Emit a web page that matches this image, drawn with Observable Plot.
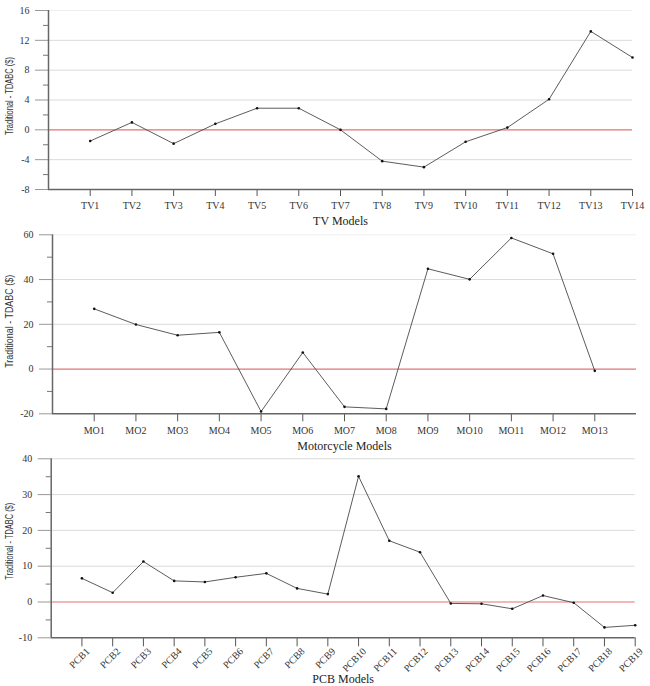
<!DOCTYPE html>
<html>
<head>
<meta charset="utf-8">
<script src="https://cdn.jsdelivr.net/npm/d3@7"></script>
<script src="https://cdn.jsdelivr.net/npm/@observablehq/plot@0.6"></script>
<style>
  html, body { margin: 0; padding: 0; background: #fff; }
  #chart { width: 650px; }
  #chart svg { display: block; }
</style>
</head>
<body>
<div id="chart"></div>
<script>
// ---- Data ----
const tvModels = ["TV1","TV2","TV3","TV4","TV5","TV6","TV7","TV8","TV9","TV10","TV11","TV12","TV13","TV14"];
const tvValues = [-1.5, 1.0, -1.85, 0.8, 2.9, 2.9, 0.0, -4.2, -5.0, -1.6, 0.3, 4.1, 13.2, 9.7];
const tvMajorTicks = [-8, -4, 0, 4, 8, 12, 16];
const tvMinorTicks = [-6, -2, 2, 6, 10, 14];

const moModels = ["MO1","MO2","MO3","MO4","MO5","MO6","MO7","MO8","MO9","MO10","MO11","MO12","MO13"];
const moValues = [26.9, 19.9, 15.1, 16.4, -19.0, 7.4, -16.9, -17.8, 44.8, 40.1, 58.6, 51.5, -0.8];
const moMajorTicks = [-20, 0, 20, 40, 60];
const moMinorTicks = [-10, 10, 30, 50];

const pcbModels = ["PCB1","PCB2","PCB3","PCB4","PCB5","PCB6","PCB7","PCB8","PCB9","PCB10","PCB11","PCB12","PCB13","PCB14","PCB15","PCB16","PCB17","PCB18","PCB19"];
const pcbValues = [6.6, 2.6, 11.3, 5.9, 5.6, 6.9, 8.0, 3.8, 2.2, 35.1, 17.1, 13.9, -0.4, -0.5, -1.9, 1.8, -0.2, -7.1, -6.5];
const pcbMajorTicks = [-10, 0, 10, 20, 30, 40];
const pcbMinorTicks = [-5, 5, 15, 25, 35];

const yTitle = "Traditional - TDABC ($)";

// ---- Panel builder ----
function panel(cfg) {
  const {models, values, major, minor, height, mt, mb, ml, mr, xTitle, xTitleDy, yTitleDy, yTitleLen, rotate, tickSize, faintTop} = cfg;
  const n = models.length;
  const xMax = cfg.xMax;
  const data = models.map((m, i) => ({i: i + 1, model: m, v: values[i]}));
  const yMin = major[0], yMax = major[major.length - 1];
  const grid = major.filter(v => v !== 0 && v !== yMin);
  const serif = "'Liberation Serif', 'Times New Roman', serif";
  const xticks = d3.range(1, n + 1);
  const svg = Plot.plot({
    width: 650,
    height,
    marginTop: mt,
    marginBottom: mb,
    marginLeft: ml,
    marginRight: mr,
    style: {fontFamily: serif, fontSize: "10px", color: "#333", background: "#fff", overflow: "visible"},
    x: {domain: [0, xMax], axis: null},
    y: {domain: [yMin, yMax], axis: null},
    marks: [
      Plot.ruleY(grid, {x1: 0, x2: xMax, stroke: d => (faintTop && d === yMax) ? "#eeeeee" : "#dadada", strokeWidth: 1}),
      Plot.axisY({ticks: minor, tickSize: 5, tickFormat: () => "", label: null, stroke: "#777"}),
      Plot.axisY({ticks: major, tickSize: 13, tickPadding: 6, label: null, stroke: "#999", fill: "#333", fontFamily: serif, fontSize: 10, tickFormat: d => String(d)}),
      // x tick lines
      Plot.axisX({ticks: xticks, tickSize: tickSize, tickFormat: () => "", label: null, stroke: "#555"}),
      // x tick labels
      rotate
        ? Plot.axisX({ticks: xticks, tickSize: 0, tickPadding: tickSize + 4, tickRotate: rotate, dx: 6, dy: -1,
                      tickFormat: d => models[d - 1], label: null, fill: "#333", fontFamily: serif, fontSize: 10})
        : Plot.axisX({ticks: xticks, tickSize: 0, tickPadding: tickSize + 5,
                      tickFormat: d => models[d - 1], label: null, fill: "#333", fontFamily: serif, fontSize: 10}),
      Plot.ruleY([0], {x1: 0, x2: xMax, stroke: "#e07474", strokeWidth: 1.2}),
      Plot.ruleY([yMin], {x1: 0, x2: xMax, stroke: "#666", strokeWidth: 1.5}),
      Plot.ruleX([0], {y1: yMin, y2: yMax, stroke: "#666", strokeWidth: 1.5}),
      Plot.line(data, {x: "i", y: "v", stroke: "#4a4a4a", strokeWidth: 0.9}),
      Plot.dot(data, {x: "i", y: "v", r: 1.3, fill: "#111", stroke: "none"}),
      Plot.text([xTitle], {frameAnchor: "bottom", lineAnchor: "middle", dy: xTitleDy, text: d => d, fontFamily: serif, fontSize: 12, fill: "#222"}),
      Plot.text([yTitle], {frameAnchor: "left", lineAnchor: "middle", textAnchor: "start",
                           dx: 9 - ml, dy: yTitleDy + yTitleLen / 2, rotate: -90, text: d => d,
                           className: "ytitle",
                           fontFamily: "'Liberation Sans', Arial, sans-serif", fontSize: 10, fill: "#333"})
    ]
  });
  d3.select(svg).selectAll(".ytitle text")
    .attr("textLength", yTitleLen)
    .attr("lengthAdjust", "spacingAndGlyphs");
  return svg;
}

const chart = document.getElementById("chart");
chart.appendChild(panel({
  models: tvModels, values: tvValues, major: tvMajorTicks, minor: tvMinorTicks, xMax: 14,
  height: 225, mt: 10, mb: 36, ml: 48, mr: 18, xTitle: "TV Models", xTitleDy: 32, yTitleDy: -4, yTitleLen: 78,
  tickSize: 7, faintTop: true
}));
chart.appendChild(panel({
  models: moModels, values: moValues, major: moMajorTicks, minor: moMinorTicks, xMax: 14,
  height: 225, mt: 9.3, mb: 36.7, ml: 52, mr: 14, xTitle: "Motorcycle Models", xTitleDy: 32, yTitleDy: -3, yTitleLen: 93,
  tickSize: 8, faintTop: true
}));
chart.appendChild(panel({
  models: pcbModels, values: pcbValues, major: pcbMajorTicks, minor: pcbMinorTicks, xMax: 19,
  height: 236, mt: 8.3, mb: 48.7, ml: 50.7, mr: 15.3, xTitle: "PCB Models", xTitleDy: 41.5, yTitleDy: -7, yTitleLen: 77,
  tickSize: 9, rotate: -45, faintTop: false
}));
</script>
</body>
</html>
